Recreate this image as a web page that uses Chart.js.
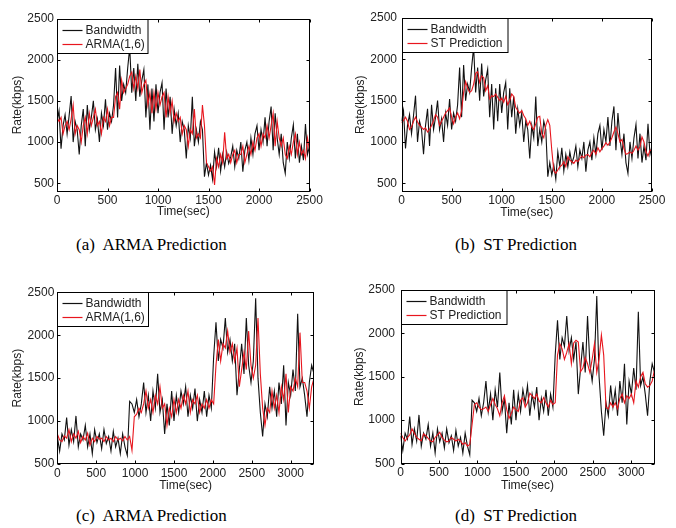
<!DOCTYPE html>
<html>
<head>
<meta charset="utf-8">
<script src="https://cdn.jsdelivr.net/npm/chart.js@4.4.0/dist/chart.umd.min.js"></script>
<style>
  body { margin: 0; background: #fff; width: 676px; height: 528px; position: relative; overflow: hidden; }
  canvas { position: absolute; }
  .cap { position: absolute; font-family: "Liberation Serif", "Times New Roman", serif; font-size: 17px; color: #000; white-space: pre; line-height: 20px; }
</style>
</head>
<body>
<canvas id="ca" width="330" height="225" style="left:0;top:0"></canvas>
<canvas id="cb" width="336" height="225" style="left:340px;top:0"></canvas>
<canvas id="cc" width="330" height="230" style="left:0;top:265px"></canvas>
<canvas id="cd" width="336" height="230" style="left:340px;top:265px"></canvas>
<div class="cap" style="left:76px;top:235px">(a)  ARMA Prediction</div>
<div class="cap" style="left:455px;top:235px">(b)  ST Prediction</div>
<div class="cap" style="left:76px;top:506px">(c)  ARMA Prediction</div>
<div class="cap" style="left:455px;top:506px">(d)  ST Prediction</div>
<script>
// trace 1: 0..2500 s, one sample every 20 s
const step1 = 20;
const bw1 = [
  1250,1380,920,1200,1330,1100,1320,1560,1000,1250,
  1150,850,1200,1400,950,1450,1150,1300,1500,1150,
  1280,1000,1350,1200,1520,1150,1350,1250,1450,1900,
  1300,1930,1500,1700,1600,1900,2150,1600,1900,1500,
  1950,1550,1750,1880,1300,1700,1150,1650,1250,1700,
  1350,1600,1720,1150,1650,1300,1550,1100,1400,1200,
  1350,1000,1250,1150,800,1200,1050,1550,950,1150,
  1000,1250,1150,580,750,600,720,550,880,700,
  930,650,850,700,880,740,820,950,700,900,
  800,1000,640,900,1000,780,1050,850,1100,1200,
  900,1150,1000,1300,950,1250,1430,900,1350,1050,
  850,1100,750,620,1000,800,1050,1210,800,1100,
  750,950,780,1220,850,950
];
const arma1 = [
  1300,1250,1300,1100,1200,1250,1150,1280,1450,1100,
  1200,1150,1000,1200,1300,1100,1350,1200,1300,1400,
  1200,1250,1100,1300,1250,1400,1200,1300,1300,1550,
  1600,1400,1750,1600,1650,1700,1800,1850,1650,1800,
  1650,1880,1600,1700,1750,1450,1600,1350,1600,1400,
  1600,1450,1550,1600,1300,1550,1350,1500,1250,1350,
  1250,1300,1100,1200,1150,950,1150,1100,1400,1050,
  1100,1050,1450,1200,750,700,650,700,480,800,
  700,850,750,1120,800,850,750,850,900,750,
  850,850,950,750,850,950,850,1000,900,1050,
  1100,950,1100,1050,1200,1050,1200,1350,950,1250,
  1050,950,1050,850,800,950,850,1000,1100,850,
  1000,850,900,800,1050,900
];
const st1 = [
  1230,1260,1300,1250,1150,1180,1250,1300,1240,1200,
  1180,1150,1170,1120,1150,1200,1260,1330,1300,1200,
  1250,1300,1350,1380,1410,1300,1220,1300,1350,1280,
  1380,1600,1730,1650,1600,1620,1700,1830,1850,1720,
  1800,1780,1620,1680,1520,1560,1550,1580,1540,1500,
  1530,1480,1550,1450,1500,1580,1550,1420,1380,1350,
  1380,1320,1280,1200,1250,1180,1150,1220,1300,1310,
  1100,1050,1200,1270,1200,900,650,620,660,700,
  720,760,700,820,780,760,740,780,760,800,
  830,810,840,850,820,870,900,850,930,880,
  920,950,990,960,1000,1050,1120,1180,1100,1000,
  1030,920,850,860,880,860,900,950,900,940,
  1060,1000,880,830,900,900
];

// trace 2: 0..3300 s, one sample every 30 s
const step2 = 30;
const bw2 = [
  820,650,850,780,1040,720,900,760,1060,700,
  850,780,950,700,850,620,900,750,850,680,
  900,740,820,650,880,700,800,620,850,700,
  600,1230,1200,1100,1250,1050,1200,1450,1100,1300,
  1000,1350,1150,1550,1100,1250,850,1200,950,1350,
  1000,1300,1100,1350,1200,1400,1050,1300,1150,1380,
  1000,1250,1100,1350,1050,1300,1150,1750,2150,1700,
  1950,1850,2200,1800,1950,1700,1900,1300,1600,1900,
  1550,2200,1650,1450,1700,2430,1500,1100,820,1200,
  1050,1400,1150,1350,1050,1450,1200,1650,950,1450,
  1300,1600,1350,2250,1400,1500,1300,1050,1450,1650,
  1550
];
const arma2 = [
  850,780,760,830,800,900,760,850,800,880,
  750,820,780,860,720,800,760,820,790,800,
  760,820,780,800,760,820,780,800,770,820,
  780,820,660,1050,1080,1150,1100,1200,1350,1150,
  1250,1100,1300,1200,1400,1150,1200,950,1150,1050,
  1250,1100,1250,1150,1300,1200,1350,1100,1250,1200,
  1300,1100,1200,1150,1250,1150,1250,1200,1650,1950,
  1700,1900,1850,2050,1800,1900,1700,1850,1400,1600,
  1800,1600,2050,1650,1500,1650,2200,1550,1150,950,
  1150,1100,1350,1150,1300,1100,1400,1250,1550,1100,
  1400,1350,1500,1400,2030,1450,1450,1350,1150,1400,
  1500
];
const st2 = [
  850,800,760,800,830,900,850,800,780,760,
  840,820,790,760,750,800,830,860,800,770,
  750,760,800,780,760,780,760,720,740,700,
  720,950,1180,1200,1150,1120,1130,1150,1100,1180,
  1250,1180,1130,1050,1200,1280,1120,1020,1080,1150,
  1120,1100,1230,1260,1150,1200,1310,1280,1250,1300,
  1220,1200,1260,1200,1150,1230,1180,1200,1750,1880,
  1820,1700,1780,1880,1650,1890,1920,1900,1560,1600,
  1720,1650,1550,1700,1880,1550,1700,1980,1750,1150,
  1130,1200,1150,1200,1130,1250,1300,1200,1280,1250,
  1300,1200,1450,1380,1500,1550,1420,1380,1400,1450,
  1580
];

const yTicks = [500, 1000, 1500, 2000, 2500];
const xTicks1 = [0, 500, 1000, 1500, 2000, 2500];
const xTicks2 = [0, 500, 1000, 1500, 2000, 2500, 3000];

function pts(vals, step) {
  return vals.map((v, i) => ({x: i * step, y: v}));
}

// matlab style: full box, inward ticks, boxed legend in the top-left corner
const matlabBox = {
  id: 'matlabBox',
  afterDatasetsDraw(chart, args, opts) {
    const ctx = chart.ctx, a = chart.chartArea;
    const L = Math.round(a.left) + 0.5, R = Math.round(a.right) - 0.5;
    const T = Math.round(a.top) + 0.5, B = Math.round(a.bottom) - 0.5;
    ctx.save();
    ctx.strokeStyle = '#000';
    ctx.lineWidth = 1;
    ctx.beginPath();
    chart.scales.x.ticks.forEach(t => {
      const px = Math.round(chart.scales.x.getPixelForValue(t.value)) + 0.5;
      ctx.moveTo(px, B); ctx.lineTo(px, B - 3);
      ctx.moveTo(px, T); ctx.lineTo(px, T + 3);
    });
    chart.scales.y.ticks.forEach(t => {
      const py = Math.round(chart.scales.y.getPixelForValue(t.value)) + 0.5;
      ctx.moveTo(L, py); ctx.lineTo(L + 3, py);
      ctx.moveTo(R, py); ctx.lineTo(R - 3, py);
    });
    ctx.stroke();
    ctx.strokeRect(L, T, R - L, B - T);

    // legend
    const w = opts.legendW, h = 34;
    ctx.fillStyle = '#fff';
    ctx.fillRect(L, T, w, h);
    ctx.strokeStyle = '#000';
    ctx.strokeRect(L, T, w, h);
    ctx.font = '12px "Liberation Sans", Arial, sans-serif';
    ctx.textBaseline = 'middle';
    chart.data.datasets.forEach((ds, i) => {
      const y = Math.round(T + 10.5 + i * 13.5) + 0.5;
      ctx.strokeStyle = ds.borderColor;
      ctx.lineWidth = 1.2;
      ctx.beginPath();
      ctx.moveTo(L + 5, y); ctx.lineTo(L + 25, y);
      ctx.stroke();
      ctx.fillStyle = '#222';
      ctx.fillText(ds.label, L + 28, y);
    });
    ctx.restore();
  }
};

const tickFont = {family: '"Liberation Sans", Arial, sans-serif', size: 12};
const plain = v => String(v);

function makeChart(id, bw, pred, step, predLabel, xMax, xTicks, yMin, g) {
  return new Chart(document.getElementById(id), {
    type: 'line',
    data: {
      datasets: [
        {label: 'Bandwidth', data: pts(bw, step), borderColor: '#111111', borderWidth: 1.1, order: 2},
        {label: predLabel, data: pts(pred, step), borderColor: '#e8161e', borderWidth: 1.1, order: 1}
      ]
    },
    options: {
      responsive: false,
      animation: false,
      elements: {point: {radius: 0}, line: {tension: 0}},
      layout: {padding: {left: 0, top: g.top, right: g.right, bottom: 0}},
      plugins: {
        legend: {display: false},
        tooltip: {enabled: false},
        matlabBox: {legendW: g.legW}
      },
      scales: {
        x: {
          type: 'linear', min: 0, max: xMax,
          afterBuildTicks: s => { s.ticks = xTicks.map(v => ({value: v})); },
          afterFit: s => { s.height = g.xh; },
          grid: {display: false, drawTicks: false},
          border: {display: false},
          ticks: {color: '#222', font: tickFont, padding: 2, maxRotation: 0, autoSkip: false, callback: plain},
          title: {display: true, text: 'Time(sec)', color: '#222', font: tickFont, padding: {top: 0, bottom: g.xtp}}
        },
        y: {
          type: 'linear', min: yMin, max: 2500,
          afterBuildTicks: s => { s.ticks = yTicks.map(v => ({value: v})); },
          afterFit: s => { s.width = g.yw; },
          grid: {display: false, drawTicks: false},
          border: {display: false},
          ticks: {color: '#222', font: tickFont, padding: g.ytk, autoSkip: false, callback: plain},
          title: {display: true, text: 'Rate(kbps)', color: '#222', font: tickFont, padding: {top: g.ytp, bottom: 0}}
        }
      }
    },
    plugins: [matlabBox]
  });
}

makeChart('ca', bw1, arma1, step1, 'ARMA(1,6)', 2500, xTicks1, 400,
  {top: 18.5, right: 20.5, xh: 33.5, yw: 57, ytk: 3, ytp: 10.8, xtp: 5.8, legW: 90.5});
makeChart('cb', bw1, st1, step1, 'ST Prediction', 2500, xTicks1, 400,
  {top: 18, right: 24, xh: 33.5, yw: 61.5, ytk: 4.5, ytp: 13.5, xtp: 5.1, legW: 105.5});
makeChart('cc', bw2, arma2, step2, 'ARMA(1,6)', 3300, xTicks2, 500,
  {top: 27.3, right: 16, xh: 31, yw: 57.3, ytk: 3, ytp: 10.1, xtp: 1.8, legW: 91});
makeChart('cd', bw2, st2, step2, 'ST Prediction', 3300, xTicks2, 500,
  {top: 25, right: 21.5, xh: 31.5, yw: 60.5, ytk: 5.5, ytp: 12.8, xtp: 1.8, legW: 105.5});
</script>
</body>
</html>
